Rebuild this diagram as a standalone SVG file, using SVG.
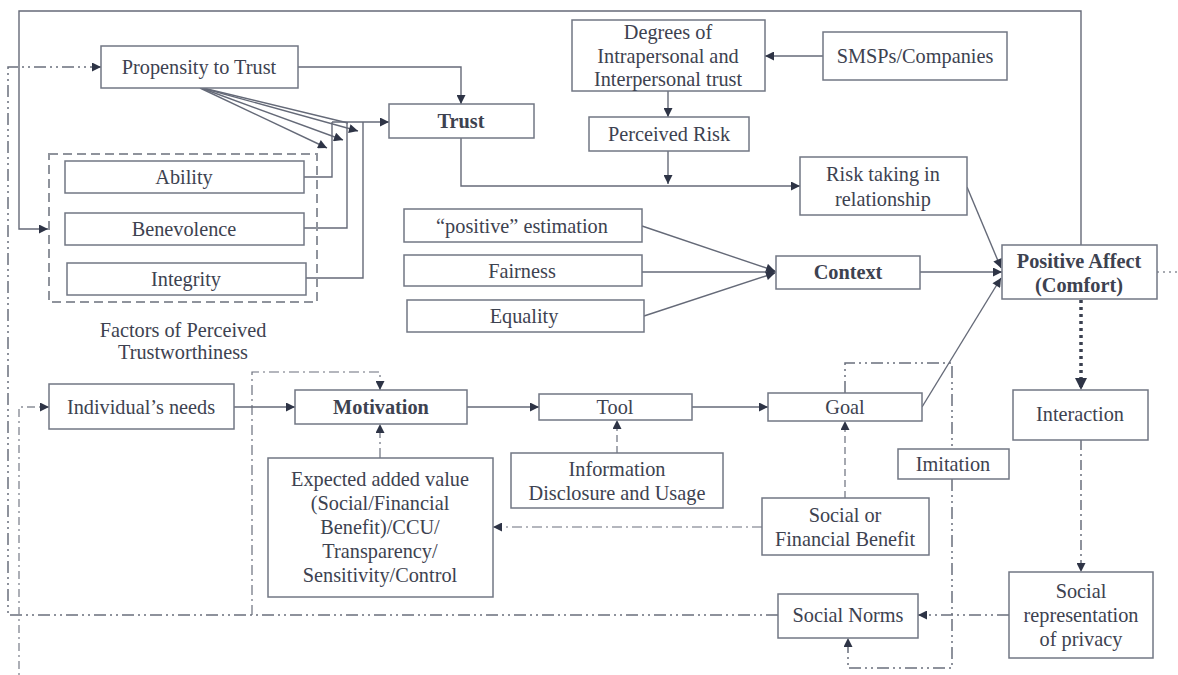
<svg xmlns="http://www.w3.org/2000/svg" width="1178" height="675" viewBox="0 0 1178 675">
<style>
.box{fill:#fff;stroke:#727784;stroke-width:1.5}
.t{font-family:'Liberation Serif','DejaVu Serif',serif;font-size:20.3px;fill:#3d4250;text-anchor:middle}
.b{font-weight:bold}
.ln{fill:none;stroke:#656a78;stroke-width:1.4}
.dd{fill:none;stroke:#6a6f7c;stroke-width:1.5;stroke-dasharray:10,4,2,4}
.dd2{fill:none;stroke:#6a6f7c;stroke-width:1.5;stroke-dasharray:12,4,2,4,2,4}
.dash{fill:none;stroke:#6a6f7c;stroke-width:1.5;stroke-dasharray:7,4}
.dot{fill:none;stroke:#8a8e98;stroke-width:1.4;stroke-dasharray:2,4,8,4}
</style>
<defs>
<marker id="a" viewBox="0 0 10 10" refX="10" refY="5" markerWidth="11" markerHeight="9" markerUnits="userSpaceOnUse" orient="auto">
<path d="M0,0 L10,5 L0,10 z" fill="#2e3446"/>
</marker>
<marker id="a2" viewBox="0 0 10 10" refX="10" refY="5" markerWidth="13" markerHeight="12" markerUnits="userSpaceOnUse" orient="auto">
<path d="M0,0 L10,5 L0,10 z" fill="#2e3446"/>
</marker>
</defs>

<g id="connectors">
<polyline class="ln" points="1081,245 1081,11 19,11 19,229 48,229" marker-end="url(#a)"/>
<polyline class="ln" points="298,67 461,67 461,104" marker-end="url(#a)"/>
<line class="ln" x1="200" y1="88" x2="327" y2="148" marker-end="url(#a)"/>
<line class="ln" x1="201" y1="88" x2="343" y2="140" marker-end="url(#a)"/>
<line class="ln" x1="202" y1="88" x2="358" y2="131" marker-end="url(#a)"/>
<line class="ln" x1="203" y1="88" x2="348" y2="123"/>
<polyline class="ln" points="304,177 332,177 332,122"/>
<polyline class="ln" points="304,228 347,228 347,122"/>
<polyline class="ln" points="306,278 363,278 363,122"/>
<polyline class="ln" points="332,122 389,122" marker-end="url(#a)"/>
<line class="ln" x1="823" y1="56" x2="765" y2="56" marker-end="url(#a)"/>
<line class="ln" x1="668" y1="91" x2="668" y2="117" marker-end="url(#a)"/>
<line class="ln" x1="668" y1="151" x2="668" y2="184" marker-end="url(#a)"/>
<polyline class="ln" points="461,138 461,186 800,186" marker-end="url(#a)"/>
<line class="ln" x1="642" y1="226" x2="775" y2="271" marker-end="url(#a)"/>
<line class="ln" x1="642" y1="272" x2="776" y2="272" marker-end="url(#a)"/>
<line class="ln" x1="644" y1="316" x2="775" y2="273" marker-end="url(#a)"/>
<line class="ln" x1="967" y1="187" x2="1001" y2="268" marker-end="url(#a)"/>
<line class="ln" x1="920" y1="272" x2="1002" y2="272" marker-end="url(#a)"/>
<line class="ln" x1="922" y1="407" x2="1001" y2="278" marker-end="url(#a)"/>
<line class="dot" x1="1157" y1="272" x2="1178" y2="272" style="stroke-dasharray:2,4"/>
<line x1="1081" y1="300" x2="1081" y2="390" stroke="#3a4050" stroke-width="3.5" stroke-dasharray="3,4" marker-end="url(#a2)"/>
<line class="dd" x1="1081" y1="440" x2="1081" y2="572" marker-end="url(#a)"/>
<line class="dd2" x1="1009" y1="615" x2="918" y2="615" marker-end="url(#a)"/>
<line class="ln" x1="234" y1="407" x2="295" y2="407" marker-end="url(#a)"/>
<line class="ln" x1="467" y1="407" x2="539" y2="407" marker-end="url(#a)"/>
<line class="ln" x1="692" y1="407" x2="768" y2="407" marker-end="url(#a)"/>
<line class="dd" x1="380" y1="458" x2="380" y2="424" marker-end="url(#a)" style="stroke-width:1.2"/>
<line class="dash" x1="617" y1="453" x2="617" y2="420" marker-end="url(#a)" style="stroke-width:1.2"/>
<line class="dash" x1="845" y1="498" x2="845" y2="421" marker-end="url(#a)" style="stroke-width:1.2"/>
<line class="dd" x1="762" y1="527" x2="493" y2="527" marker-end="url(#a)" style="stroke-width:1.2"/>
<polyline class="dd2" points="845,393 845,363 952,363 952,449"/>
<polyline class="dd2" points="952,479 952,668 848,668 848,638" marker-end="url(#a)"/>
<polyline class="dd2" points="778,615 8,615 8,67 101,67" marker-end="url(#a)"/>
<polyline class="dd" points="252,615 252,372 380,372 380,390" marker-end="url(#a)" style="stroke-width:1.2"/>
<polyline class="dot" points="19,675 19,407 49,407" marker-end="url(#a)"/>
</g>

<g id="factors">
<rect x="49" y="154" width="268" height="148" fill="none" stroke="#8f939c" stroke-width="2" stroke-dasharray="9,5"/>
<text class="t" x="183" y="337">Factors of Perceived</text>
<text class="t" x="183" y="359">Trustworthiness</text>
</g>
<g id="propensity"><rect class="box" x="101" y="46" width="197" height="42"/><text class="t" x="199" y="74">Propensity to Trust</text></g>
<g id="ability"><rect class="box" x="65" y="161" width="239" height="32"/><text class="t" x="184" y="184">Ability</text></g>
<g id="benevolence"><rect class="box" x="65" y="213" width="239" height="32"/><text class="t" x="184" y="236">Benevolence</text></g>
<g id="integrity"><rect class="box" x="67" y="263" width="239" height="32"/><text class="t" x="186" y="286">Integrity</text></g>
<g id="trust"><rect class="box" x="389" y="104" width="145" height="34"/><text class="t b" x="461" y="128">Trust</text></g>
<g id="degrees"><rect class="box" x="572" y="20" width="193" height="71"/>
<text class="t" x="668" y="39">Degrees of</text><text class="t" x="668" y="63">Intrapersonal and</text><text class="t" x="668" y="86">Interpersonal trust</text></g>
<g id="smsps"><rect class="box" x="823" y="32" width="184" height="48"/><text class="t" x="915" y="63">SMSPs/Companies</text></g>
<g id="perceivedrisk"><rect class="box" x="589" y="117" width="160" height="34"/><text class="t" x="669" y="141">Perceived Risk</text></g>
<g id="risktaking"><rect class="box" x="800" y="157" width="167" height="58"/>
<text class="t" x="883" y="181">Risk taking in</text><text class="t" x="883" y="206">relationship</text></g>
<g id="positiveest"><rect class="box" x="404" y="209" width="238" height="33"/><text class="t" x="522" y="233">“positive” estimation</text></g>
<g id="fairness"><rect class="box" x="404" y="255" width="238" height="31"/><text class="t" x="522" y="278">Fairness</text></g>
<g id="equality"><rect class="box" x="407" y="300" width="237" height="32"/><text class="t" x="524" y="323">Equality</text></g>
<g id="context"><rect class="box" x="776" y="256" width="144" height="33"/><text class="t b" x="848" y="279">Context</text></g>
<g id="positiveaffect"><rect class="box" x="1002" y="245" width="155" height="54"/>
<text class="t b" x="1079" y="268">Positive Affect</text><text class="t b" x="1079" y="292">(Comfort)</text></g>
<g id="interaction"><rect class="box" x="1013" y="390" width="135" height="50"/><text class="t" x="1080" y="421">Interaction</text></g>
<g id="needs"><rect class="box" x="49" y="384" width="185" height="45"/><text class="t" x="141" y="414">Individual’s needs</text></g>
<g id="motivation"><rect class="box" x="295" y="390" width="172" height="34"/><text class="t b" x="381" y="414">Motivation</text></g>
<g id="tool"><rect class="box" x="539" y="394" width="153" height="26"/><text class="t" x="615" y="414">Tool</text></g>
<g id="goal"><rect class="box" x="768" y="393" width="154" height="28"/><text class="t" x="845" y="414">Goal</text></g>
<g id="expected"><rect class="box" x="268" y="458" width="225" height="139"/>
<text class="t" x="380" y="486">Expected added value</text>
<text class="t" x="380" y="510">(Social/Financial</text>
<text class="t" x="380" y="534">Benefit)/CCU/</text>
<text class="t" x="380" y="558">Transparency/</text>
<text class="t" x="380" y="582">Sensitivity/Control</text></g>
<g id="infodisclosure"><rect class="box" x="511" y="453" width="212" height="55"/>
<text class="t" x="617" y="476">Information</text><text class="t" x="617" y="500">Disclosure and Usage</text></g>
<g id="imitation"><rect class="box" x="898" y="449" width="111" height="30"/><text class="t" x="953" y="471">Imitation</text></g>
<g id="socialbenefit"><rect class="box" x="762" y="498" width="167" height="57"/>
<text class="t" x="845" y="522">Social or</text><text class="t" x="845" y="546">Financial Benefit</text></g>
<g id="socialnorms"><rect class="box" x="778" y="594" width="140" height="44"/><text class="t" x="848" y="622">Social Norms</text></g>
<g id="socialrep"><rect class="box" x="1009" y="572" width="144" height="86"/>
<text class="t" x="1081" y="598">Social</text><text class="t" x="1081" y="622">representation</text><text class="t" x="1081" y="646">of privacy</text></g>
</svg>
